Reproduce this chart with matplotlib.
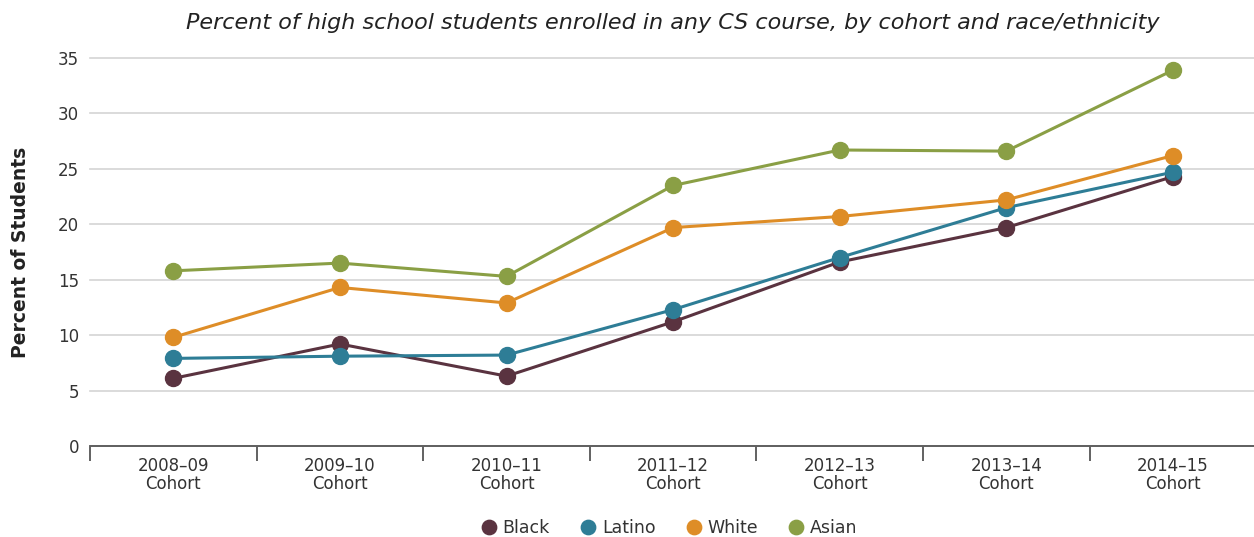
import matplotlib.pyplot as plt
import numpy as np

plt.rcParams['font.family'] = ['DejaVu Sans']

cohorts = ["2008–09", "2009–10", "2010–11", "2011–12", "2012–13", "2013–14", "2014–15"]
black = [6.1, 9.2, 6.3, 11.2, 16.6, 19.7, 24.3]
latino = [7.9, 8.1, 8.2, 12.3, 17.0, 21.5, 24.7]
white = [9.8, 14.3, 12.9, 19.7, 20.7, 22.2, 26.2]
asian = [15.8, 16.5, 15.3, 23.5, 26.7, 26.6, 33.9]

series = [("Black", black, "#5a3340"),
          ("Latino", latino, "#2e7d96"),
          ("White", white, "#de8d27"),
          ("Asian", asian, "#8a9f45")]

fig = plt.figure(figsize=(12.54, 5.37), dpi=100)
ax = fig.add_axes([0.0718, 0.1695, 0.93, 0.7225])

x = np.arange(len(cohorts))
for name, vals, col in series:
    ax.plot(x, vals, color=col, lw=2.2, marker='o', markersize=11.5,
            label=name, clip_on=False, zorder=3)

ax.set_xlim(-0.5, len(cohorts) - 0.5)
ax.set_ylim(0, 35)
ax.set_yticks(range(0, 36, 5))
ax.yaxis.grid(True, color='#d4d4d4', lw=1.2)
ax.set_axisbelow(True)
for gl in ax.get_ygridlines():
    gl.set_clip_on(False)

ax.set_xticks(x)
ax.set_xticklabels([f"{c}\nCohort" for c in cohorts], fontsize=12, color='#333333',
                   linespacing=1.0)
ax.set_xticks(np.arange(-0.5, len(cohorts)), minor=True)
ax.tick_params(axis='x', which='major', length=0, pad=8)
ax.tick_params(axis='x', which='minor', length=11, width=1.3, color='#555555', direction='out')
ax.tick_params(axis='y', length=0, labelsize=12, labelcolor='#333333', pad=8)

for s in ['top', 'right', 'left']:
    ax.spines[s].set_visible(False)
ax.spines['bottom'].set_color('#555555')
ax.spines['bottom'].set_linewidth(1.3)

ax.set_ylabel("Percent of Students", fontsize=13.5, fontweight='bold', color='#222222', labelpad=20)
ax.set_title("Percent of high school students enrolled in any CS course, by cohort and race/ethnicity",
             fontsize=16, style='italic', color='#222222', pad=21)

leg = ax.legend(loc='center', bbox_to_anchor=(0.5, -0.211), ncol=4, frameon=False,
                fontsize=12.5, handlelength=0, handletextpad=0.8, columnspacing=2.2,
                markerscale=0.9)
for h in leg.legend_handles:
    h.set_linestyle('')
for t in leg.get_texts():
    t.set_color('#333333')

fig.savefig("out.png", dpi=100)
